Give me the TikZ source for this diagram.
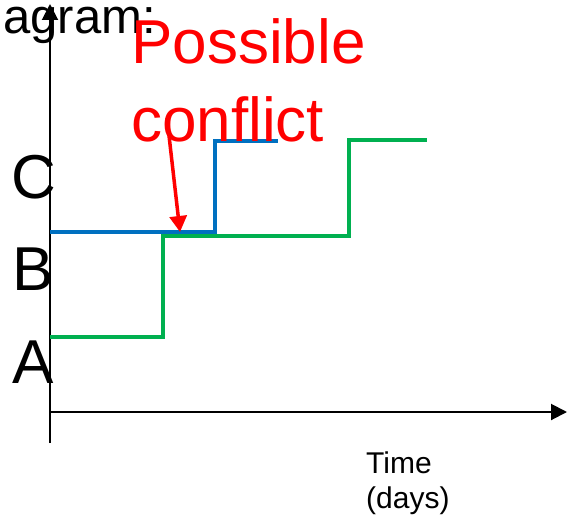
\documentclass[tikz,border=0pt]{standalone}
\usepackage{fontspec}
\setmainfont{Liberation Sans}
\usetikzlibrary{arrows.meta}

\definecolor{planblue}{RGB}{0,112,192}
\definecolor{plangreen}{RGB}{0,176,80}

\begin{document}
\begin{tikzpicture}[x=1pt,y=-1pt,
    axis/.style={line width=2pt,-{Triangle[length=16pt,width=16pt]}},
    plan/.style={line width=4.5pt},
    big/.style={font=\fontsize{62}{78}\selectfont,inner sep=0pt}]
  \useasboundingbox (0,0) rectangle (567,527);

  \node [anchor=base east,inner sep=0pt,font=\fontsize{49}{54}\selectfont] (title) at (156,34) {Diagram:};

  % axes
  \draw [axis] (50,443) -- (50,4);
  \draw [axis] (50,412) -- (567,412);
  \node [anchor=north west,inner sep=0pt,align=left,font=\fontsize{30}{35}\selectfont] (time) at (366,452) {Time\\(days)};

  % states
  \node [big,anchor=base] (C) at (34,198) {C};
  \node [big,anchor=base] (B) at (33,290) {B};
  \node [big,anchor=base] (A) at (33,383) {A};

  \draw [plan,plangreen] (50,337) -- (163,337) -- (163,236) -- (349,236) -- (349,140) -- (427,140);
  \draw [plan,planblue] (50,232) -- (215,232) -- (215,141) -- (278,141);

  % conflict
  \node [big,red,anchor=north west,align=left] (note) at (131,18) {Possible\\conflict};
  \coordinate (tail) at (167,118);
  \coordinate (clash) at (180,232);
  \draw [red,line width=3.5pt,-{Triangle[length=16pt,width=17pt]}] (tail) -- (clash);
\end{tikzpicture}
\end{document}
